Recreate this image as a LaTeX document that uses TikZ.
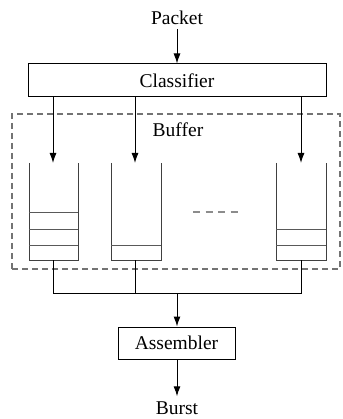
\documentclass[tikz,border=0pt]{standalone}
\usepackage{fontspec}
\setmainfont{Liberation Serif}
\usetikzlibrary{arrows.meta}
\begin{document}
\begin{tikzpicture}[x=1pt,y=1pt,
  every node/.style={font=\fontsize{19.5}{22}\selectfont, inner sep=0pt},
  boxnode/.style={draw, line width=1pt},
  conn/.style={line width=1pt},
  arr/.style={line width=1pt, -{Latex[length=10pt,width=7pt]}},
  wall/.style={line width=1pt, draw=black!75},
  slot/.style={line width=1pt, draw=black!65},
  bufbox/.style={draw=black!55, line width=1.2pt, dash pattern=on 6pt off 4pt},
]
\useasboundingbox (0,0) rectangle (342,-419);
% labels and boxes
\node (pkt) at (177,-18) {Packet};
\node[boxnode, minimum width=298pt, minimum height=33pt] (clf) at (177,-80.5) {Classifier};
\node[bufbox, minimum width=328pt, minimum height=155pt] (buf) at (176,-191.5) {};
\node (buflbl) at (178,-130) {Buffer};
\node[boxnode, minimum width=117pt, minimum height=32pt] (asm) at (176.5,-343) {Assembler};
\node (burst) at (177,-408) {Burst};
% queue entry/exit coordinates
\coordinate (q1in) at (53,-163);
\coordinate (q2in) at (135,-163);
\coordinate (q3in) at (301,-163);
\coordinate (q1out) at (53,-260);
\coordinate (q2out) at (135,-260);
\coordinate (q3out) at (301,-260);
\coordinate (j1) at (53,-293);
\coordinate (j2) at (135,-293);
\coordinate (j3) at (301,-293);
\coordinate (jm) at (177,-293);
% queues
\draw[wall] (29,-163) -- (29,-260) -- (78,-260) -- (78,-163);
\draw[wall] (111,-163) -- (111,-260) -- (161,-260) -- (161,-163);
\draw[wall] (276,-163) -- (276,-260) -- (326,-260) -- (326,-163);
\draw[slot] (29,-212) -- (78,-212);
\draw[slot] (29,-229) -- (78,-229);
\draw[slot] (29,-245) -- (78,-245);
\draw[slot] (111,-245) -- (161,-245);
\draw[slot] (276,-229) -- (326,-229);
\draw[slot] (276,-245) -- (326,-245);
% ellipsis dashes
\draw[draw=black!45, line width=2pt, dash pattern=on 7pt off 5.5pt] (193,-212) -- (241,-212);
% connectors
\draw[arr, shorten <=4pt] (pkt) -- (clf.north -| pkt);
\draw[arr] (clf.south -| q1in) -- (q1in);
\draw[arr] (clf.south -| q2in) -- (q2in);
\draw[arr] (clf.south -| q3in) -- (q3in);
\draw[conn] (q1out) -- (j1) -- (j3) -- (q3out);
\draw[conn] (q2out) -- (j2);
\draw[arr] (jm) -- (asm.north -| jm);
\draw[arr, shorten >=5pt] (asm.south -| burst) -- (burst);
\end{tikzpicture}
\end{document}
